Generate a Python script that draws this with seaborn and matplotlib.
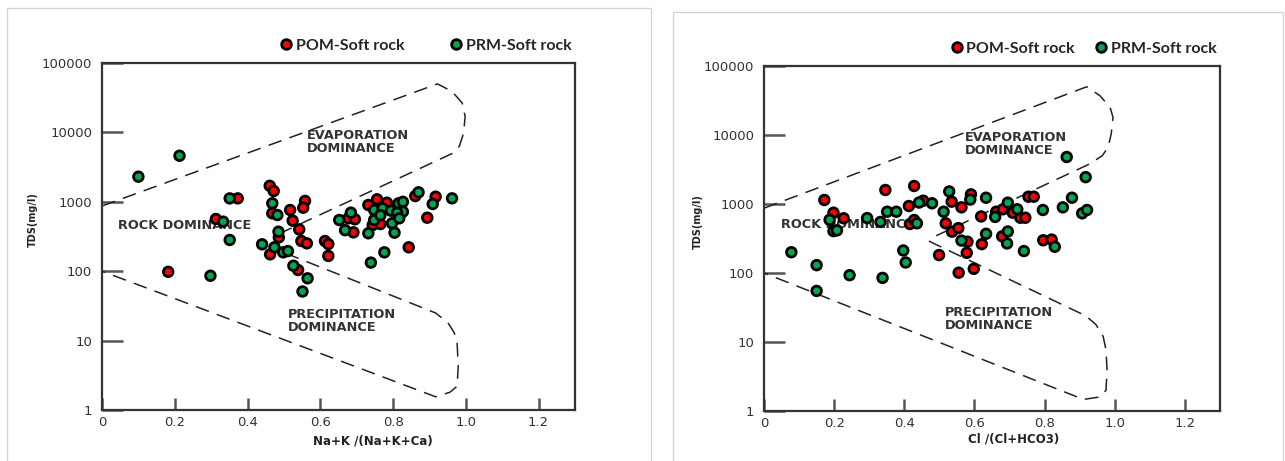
import pandas as pd
import numpy as np
import matplotlib
matplotlib.use("Agg")
import matplotlib.pyplot as plt
import seaborn as sns
from matplotlib.patches import Rectangle
from matplotlib.ticker import NullLocator

# --- Gibbs diagram data ---
groups = ["POM-Soft rock", "PRM-Soft rock"]
colors = {"POM-Soft rock": "#ff0000", "PRM-Soft rock": "#00a651"}

# left panel: Na+K /(Na+K+Ca)
nak_pom_x = [0.182, 0.313, 0.373, 0.461, 0.472, 0.468, 0.517, 0.558, 0.553, 0.524,
             0.486, 0.542, 0.462, 0.548, 0.563, 0.539, 0.613, 0.622, 0.622, 0.677,
             0.695, 0.691, 0.732, 0.756, 0.783, 0.744, 0.765, 0.843, 0.894, 0.917, 0.861]
nak_pom_tds = [98, 565, 1120, 1700, 1430, 683, 762, 1030, 822, 535,
               307, 400, 175, 272, 252, 104, 272, 246, 166, 578,
               560, 363, 900, 1087, 970, 463, 478, 221, 590, 1185, 1210]
nak_prm_x = [0.100, 0.213, 0.351, 0.333, 0.351, 0.298, 0.468, 0.482, 0.485, 0.440,
             0.474, 0.498, 0.511, 0.526, 0.565, 0.551, 0.652, 0.668, 0.684, 0.732,
             0.739, 0.776, 0.909, 0.962, 0.870, 0.748, 0.771, 0.794, 0.815, 0.827,
             0.827, 0.811, 0.748, 0.797, 0.817, 0.804, 0.765]
nak_prm_tds = [2300, 4610, 1120, 517, 282, 86, 951, 645, 371, 244,
               221, 187, 195, 120, 79, 51, 547, 390, 697, 352,
               133, 187, 930, 1122, 1370, 762, 805, 745, 951, 1000,
               720, 697, 547, 490, 578, 359, 640]

# right panel: Cl /(Cl+HCO3)
cl_pom_x = [0.172, 0.346, 0.428, 0.198, 0.227, 0.413, 0.454, 0.416, 0.428, 0.518,
            0.499, 0.535, 0.563, 0.590, 0.536, 0.554, 0.580, 0.578, 0.555, 0.598,
            0.619, 0.621, 0.662, 0.681, 0.709, 0.731, 0.745, 0.679, 0.754, 0.769,
            0.796, 0.820]
cl_pom_tds = [1143, 1596, 1824, 748, 621, 935, 1117, 513, 586, 525,
              182, 1080, 895, 1380, 397, 447, 284, 196, 101, 115,
              660, 262, 773, 838, 748, 632, 632, 340, 1276, 1276,
              298, 305]
cl_prm_x = [0.187, 0.198, 0.208, 0.294, 0.332, 0.351, 0.377, 0.442, 0.479, 0.436,
            0.512, 0.528, 0.588, 0.078, 0.150, 0.244, 0.338, 0.150, 0.397, 0.404,
            0.563, 0.633, 0.633, 0.659, 0.695, 0.722, 0.695, 0.693, 0.741, 0.795,
            0.829, 0.852, 0.878, 0.907, 0.921, 0.863, 0.917]
cl_prm_tds = [590, 405, 415, 625, 550, 773, 773, 1050, 1024, 525,
              773, 1520, 1160, 200, 130, 93, 85, 55, 212, 142,
              295, 1233, 370, 650, 1045, 838, 400, 268, 208, 819,
              240, 895, 1233, 733, 819, 4800, 2450]

# dashed field boundaries
left_upper_x = [0.0, 0.922, 0.962, 0.990, 0.998, 0.994, 0.982, 0.962, 0.917, 0.478]
left_upper_y = [870, 50000, 39000, 26500, 17000, 9800, 6300, 4950, 3850, 330]
left_lower_x = [0.505, 0.917, 0.951, 0.968, 0.976, 0.979, 0.976, 0.956, 0.917, 0.0]
left_lower_y = [181, 25, 18, 13, 9.3, 4.3, 2.2, 1.8, 1.55, 100]

right_upper_x = [0.0, 0.920, 0.958, 0.987, 0.995, 0.990, 0.981, 0.964, 0.928, 0.490]
right_upper_y = [870, 50000, 37000, 25000, 18000, 10500, 6600, 5000, 3800, 345]
right_lower_x = [0.470, 0.917, 0.946, 0.967, 0.975, 0.978, 0.975, 0.958, 0.911, 0.0]
right_lower_y = [290, 24, 18, 12, 7.7, 3.9, 2.0, 1.6, 1.47, 100]

yticks = [1, 10, 100, 1000, 10000, 100000]
ytick_labels = ["1", "10", "100", "1000", "10000", "100000"]
xticks = [0, 0.2, 0.4, 0.6, 0.8, 1.0, 1.2]
xtick_labels = ["0", "0.2", "0.4", "0.6", "0.8", "1.0", "1.2"]


def make_frame(pom_x, pom_y, prm_x, prm_y):
    a = pd.DataFrame({"ratio": pom_x, "TDS": pom_y, "group": groups[0]})
    b = pd.DataFrame({"ratio": prm_x, "TDS": prm_y, "group": groups[1]})
    return pd.concat([a, b], ignore_index=True)


sns.set_style("white")
plt.rcParams["font.family"] = ["DejaVu Sans"]

fig = plt.figure(figsize=(12.85, 4.61), dpi=100)

# light panel borders
fig.add_artist(Rectangle((7 / 1285, -0.02), 644 / 1285, 1.02 - 8 / 461,
                         transform=fig.transFigure, fill=False, ec="#d4d4d4", lw=1))
fig.add_artist(Rectangle((673 / 1285, -0.02), 610 / 1285, 1.02 - 12 / 461,
                         transform=fig.transFigure, fill=False, ec="#d4d4d4", lw=1))

ax1 = fig.add_axes([102 / 1285, 51 / 461, 473 / 1285, 347 / 461])
ax2 = fig.add_axes([764 / 1285, 50 / 461, 456 / 1285, 345 / 461])

panels = [
    (ax1, make_frame(nak_pom_x, nak_pom_tds, nak_prm_x, nak_prm_tds),
     left_upper_x, left_upper_y, left_lower_x, left_lower_y,
     "Na+K /(Na+K+Ca)", 0.573, -0.072, 2.9,
     [(0.563, 7360), (0.044, 463), (0.51, 19.2)]),
    (ax2, make_frame(cl_pom_x, cl_pom_tds, cl_prm_x, cl_prm_tds),
     right_upper_x, right_upper_y, right_lower_x, right_lower_y,
     "Cl /(Cl+HCO3)", 0.548, -0.062, 1.3,
     [(0.573, 7410), (0.049, 500), (0.515, 21.4)]),
]

for ax, df, ux, uy, lx, ly, xlab, xl_x, xl_y, colsp, txt_pos in panels:
    ax.plot(ux, uy, color="#222222", lw=1.1, dashes=(9, 5.5), zorder=2)
    ax.plot(lx, ly, color="#222222", lw=1.1, dashes=(9, 5.5), zorder=2)

    sns.scatterplot(data=df, x="ratio", y="TDS", hue="group", palette=colors,
                    s=48, edgecolor="black", linewidth=2.0, ax=ax, zorder=3)

    ax.set_yscale("log")
    ax.set_ylim(1, 100000)
    ax.set_xlim(0, 1.3)
    ax.set_yticks(yticks)
    ax.set_yticklabels(ytick_labels)
    ax.yaxis.set_minor_locator(NullLocator())
    ax.set_xticks(xticks)
    ax.set_xticklabels(xtick_labels)
    ax.tick_params(axis="y", which="major", left=True, direction="in", length=15,
                   width=1.8, color="#555555", pad=7, labelsize=9.5,
                   labelcolor="#333333")
    ax.tick_params(axis="x", which="major", bottom=True, direction="in", length=9,
                   width=1.8, color="#555555", pad=4, labelsize=9.5,
                   labelcolor="#333333")
    for sp in ax.spines.values():
        sp.set_linewidth(1.6)
        sp.set_color("#333333")

    ax.set_xlabel(xlab, fontsize=8.5, fontweight="bold", color="#222222")
    ax.xaxis.set_label_coords(xl_x, xl_y)
    ax.set_ylabel("TDS(mg/l)", fontsize=7, fontweight="bold", color="#222222")
    ax.yaxis.set_label_coords(-0.135, 0.55)

    (ex, ey), (rx, ry), (px, py) = txt_pos
    lab = dict(fontsize=9.3, fontweight="bold", color="#333333", va="center",
               ha="left", linespacing=1.0, zorder=2)
    ax.text(ex, ey, "EVAPORATION\nDOMINANCE", **lab)
    ax.text(rx, ry, "ROCK DOMINANCE", **lab)
    ax.text(px, py, "PRECIPITATION\nDOMINANCE", **lab)

    sns.move_legend(ax, "center right", bbox_to_anchor=(1.01, 1.05), ncol=2,
                    title=None, frameon=False, handlelength=0.7,
                    handletextpad=0.25, columnspacing=colsp, borderpad=0,
                    prop={"family": "Lato", "weight": "bold", "size": 11.5})

fig.savefig("out.png", dpi=100)
